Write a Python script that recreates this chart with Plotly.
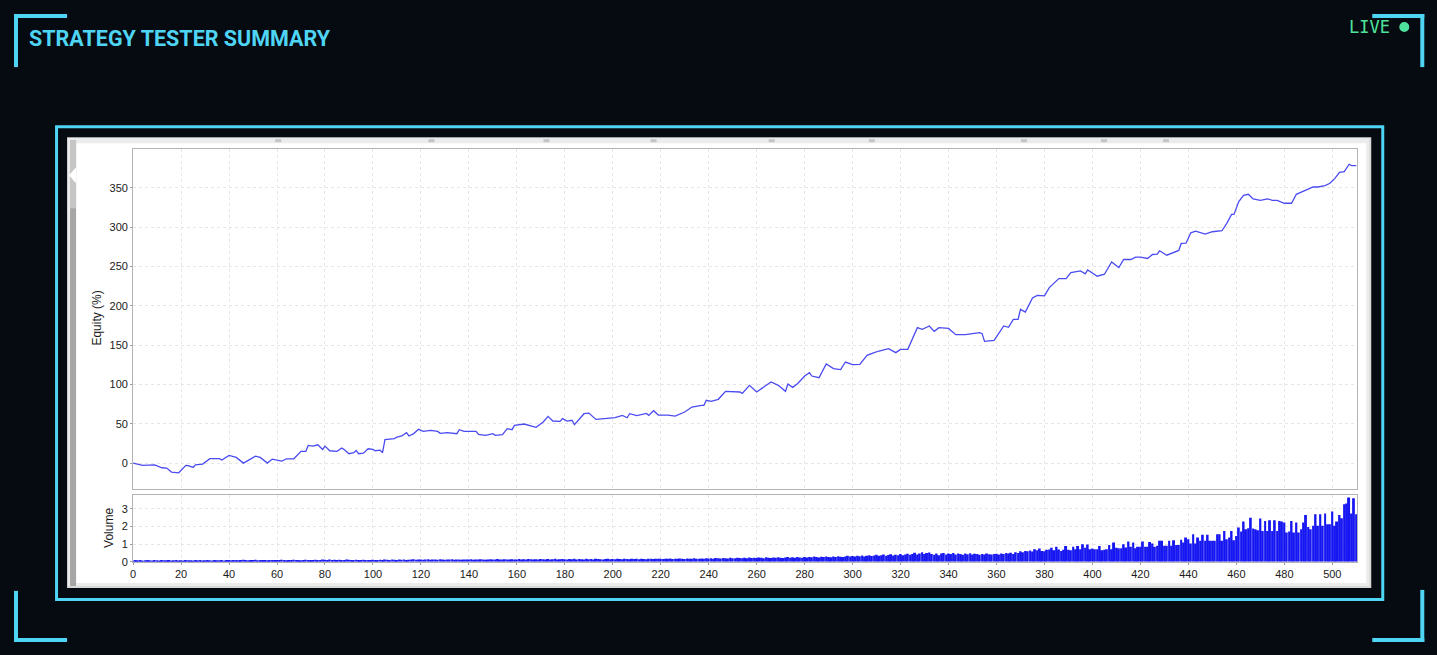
import plotly.graph_objects as go

W, H = 1437, 655
# the photographed page comes out slightly squeezed, so pre-stretch positions a bit
SY = 655 / 648
SX, OX = 0.997, 3.0

# equity curve: trade number -> equity (%)
trade_no = [0, 4, 9, 12, 14, 16, 19, 22, 23, 25, 26, 29, 32, 36, 37, 40, 43, 46, 48, 51,
            53, 56, 58, 60, 62, 64, 67, 70, 72, 73, 75, 77, 79, 80, 82, 85, 87, 88, 90, 92,
            93, 94, 96, 98, 100, 101, 103, 104, 105, 109, 110, 112, 114, 115, 117, 119, 121, 124, 127, 128,
            131, 135, 136, 138, 143, 144, 147, 150, 151, 154, 156, 158, 159, 163, 166, 168, 171, 173, 175, 178,
            179, 181, 183, 184, 188, 190, 193, 198, 201, 204, 206, 207, 210, 214, 215, 217, 219, 223, 226, 230,
            233, 237, 238, 239, 241, 244, 247, 253, 254, 257, 260, 264, 266, 269, 272, 273, 275, 277, 280, 282,
            283, 286, 289, 292, 295, 297, 300, 303, 306, 309, 311, 315, 318, 320, 323, 327, 329, 332, 334, 336,
            340, 343, 347, 353, 354, 355, 359, 363, 365, 367, 369, 370, 372, 375, 377, 380, 382, 386, 389, 391,
            395, 397, 398, 402, 405, 408, 411, 413, 416, 418, 420, 423, 425, 427, 428, 431, 436, 437, 439, 441,
            443, 447, 450, 454, 456, 458, 459, 461, 463, 465, 467, 470, 473, 475, 477, 480, 483, 485, 489, 491,
            492, 494, 497, 499, 501, 503, 505, 507, 508, 510]
equity = [0, -2.9, -2.3, -5.9, -6.3, -11.4, -12.3, -2.9, -3.2, -5.5, -2.1, -1.3, 5.6, 5.6, 3.9, 9.8, 7.3, 0, 3.4, 8.9,
          7.2, 0, 5.1, 4.2, 2.5, 5.5, 5.5, 14.9, 14.9, 22.5, 21.6, 23.3, 17.4, 21.6, 15.7, 14.9, 19.1, 17.4, 11.9, 13.2,
          16.1, 11.9, 12.7, 18.2, 17.4, 15.7, 16.5, 13.2, 29.8, 31.1, 33.2, 34.5, 38.7, 34.5, 37.5, 42.9, 40.3, 41.6, 40.3, 37.8,
          38.7, 37.4, 42.5, 40.3, 40.3, 36.5, 35.3, 37.4, 35.3, 36.1, 43.8, 42.5, 48.0, 49.7, 47.0, 45.4, 52.2, 59.4, 53.5, 53.1,
          56.5, 53.5, 54.4, 48.8, 62.8, 63.6, 55.5, 56.4, 57.7, 60.7, 57.7, 62.8, 60.3, 63.2, 60.7, 66.6, 61.1, 61.1, 59.8, 64.9,
          71.3, 73.4, 73.4, 79.8, 78.5, 81.1, 91.2, 90.4, 88.7, 98.9, 90.4, 98.9, 103.1, 98.9, 91.2, 100.5, 96.3, 101.0, 110.7, 115.0,
          110.7, 108.6, 126.0, 120.1, 118.8, 128.5, 125.1, 125.6, 137.0, 140.4, 142.5, 145.5, 140.4, 144.6, 144.6, 172.2, 170.1, 174.3, 167.5, 172.2,
          171.2, 163.3, 163.3, 165.9, 164.6, 154.8, 156.1, 174.3, 172.6, 182.8, 182.8, 195.5, 192.1, 209.9, 213.3, 212.5, 223.1, 234.6, 234.6, 242.2,
          244.4, 240.5, 245.6, 237.6, 240.1, 255.8, 248.6, 258.8, 258.8, 261.8, 261.8, 260.1, 265.2, 265.6, 269.9, 264.3, 270.3, 279.2, 279.6, 292.8,
          294.9, 291.1, 294.1, 295.4, 304.8, 316.2, 316.2, 332.4, 340.4, 341.7, 335.8, 334.1, 335.8, 334.1, 334.1, 330.3, 330.3, 341.7, 347.3, 349.4,
          351.0, 351.0, 352.7, 355.7, 361.6, 369.7, 370.5, 379.9, 378.2, 378.2]

# volume per trade, in blocks of 20 trades
vol_000 = [0.08, 0.10, 0.09, 0.10, 0.08, 0.09, 0.10, 0.09, 0.08, 0.10, 0.09, 0.08, 0.10, 0.09, 0.09, 0.10, 0.08, 0.09, 0.10, 0.08]
vol_020 = [0.09, 0.08, 0.10, 0.09, 0.09, 0.08, 0.10, 0.09, 0.10, 0.08, 0.09, 0.10, 0.09, 0.08, 0.10, 0.09, 0.09, 0.10, 0.08, 0.10]
vol_040 = [0.11, 0.09, 0.10, 0.11, 0.09, 0.10, 0.12, 0.10, 0.09, 0.11, 0.10, 0.12, 0.09, 0.10, 0.11, 0.10, 0.09, 0.11, 0.10, 0.10]
vol_060 = [0.11, 0.10, 0.12, 0.10, 0.09, 0.11, 0.10, 0.12, 0.11, 0.10, 0.09, 0.11, 0.12, 0.10, 0.11, 0.10, 0.12, 0.11, 0.10, 0.13]
vol_080 = [0.12, 0.11, 0.13, 0.10, 0.12, 0.11, 0.12, 0.10, 0.11, 0.13, 0.12, 0.11, 0.10, 0.12, 0.11, 0.10, 0.12, 0.11, 0.10, 0.11]
vol_100 = [0.12, 0.11, 0.10, 0.12, 0.11, 0.13, 0.12, 0.11, 0.14, 0.12, 0.11, 0.13, 0.12, 0.14, 0.11, 0.12, 0.13, 0.15, 0.12, 0.13]
vol_120 = [0.14, 0.12, 0.13, 0.15, 0.12, 0.13, 0.14, 0.12, 0.15, 0.13, 0.12, 0.14, 0.13, 0.15, 0.12, 0.14, 0.13, 0.12, 0.14, 0.13]
vol_140 = [0.13, 0.15, 0.12, 0.14, 0.13, 0.15, 0.14, 0.12, 0.13, 0.15, 0.14, 0.13, 0.16, 0.14, 0.13, 0.15, 0.14, 0.13, 0.15, 0.14]
vol_160 = [0.14, 0.16, 0.13, 0.15, 0.14, 0.16, 0.15, 0.13, 0.15, 0.14, 0.16, 0.15, 0.13, 0.16, 0.14, 0.15, 0.17, 0.14, 0.15, 0.16]
vol_180 = [0.15, 0.14, 0.16, 0.15, 0.17, 0.14, 0.16, 0.15, 0.14, 0.17, 0.15, 0.16, 0.14, 0.17, 0.16, 0.15, 0.14, 0.16, 0.17, 0.15]
vol_200 = [0.16, 0.15, 0.17, 0.16, 0.15, 0.18, 0.16, 0.15, 0.17, 0.16, 0.18, 0.15, 0.17, 0.16, 0.15, 0.18, 0.17, 0.16, 0.18, 0.17]
vol_220 = [0.17, 0.16, 0.18, 0.17, 0.19, 0.16, 0.18, 0.17, 0.19, 0.18, 0.16, 0.19, 0.18, 0.17, 0.20, 0.18, 0.17, 0.19, 0.18, 0.20]
vol_240 = [0.19, 0.21, 0.18, 0.22, 0.20, 0.19, 0.22, 0.21, 0.19, 0.23, 0.21, 0.20, 0.24, 0.22, 0.20, 0.23, 0.21, 0.25, 0.22, 0.24]
vol_260 = [0.22, 0.25, 0.23, 0.21, 0.26, 0.24, 0.22, 0.25, 0.23, 0.26, 0.24, 0.22, 0.25, 0.27, 0.23, 0.26, 0.24, 0.28, 0.25, 0.23]
vol_280 = [0.27, 0.25, 0.28, 0.26, 0.30, 0.27, 0.25, 0.29, 0.27, 0.31, 0.28, 0.26, 0.30, 0.28, 0.32, 0.29, 0.27, 0.31, 0.34, 0.30]
vol_300 = [0.33, 0.30, 0.35, 0.32, 0.36, 0.31, 0.34, 0.38, 0.33, 0.36, 0.40, 0.34, 0.37, 0.42, 0.35, 0.39, 0.43, 0.36, 0.40, 0.38]
vol_320 = [0.44, 0.38, 0.42, 0.46, 0.40, 0.45, 0.52, 0.42, 0.48, 0.55, 0.44, 0.50, 0.53, 0.45, 0.40, 0.48, 0.38, 0.47, 0.50, 0.42]
vol_340 = [0.47, 0.44, 0.50, 0.42, 0.48, 0.45, 0.40, 0.47, 0.43, 0.49, 0.41, 0.46, 0.44, 0.40, 0.45, 0.42, 0.47, 0.43, 0.41, 0.44]
vol_360 = [0.46, 0.42, 0.48, 0.44, 0.50, 0.47, 0.52, 0.45, 0.55, 0.50, 0.60, 0.55, 0.62, 0.60, 0.65, 0.58, 0.72, 0.66, 0.75, 0.62]
vol_380 = [0.60, 0.68, 0.70, 0.80, 0.66, 0.85, 0.70, 0.62, 0.68, 0.90, 0.68, 0.66, 0.85, 0.72, 0.90, 0.72, 1.00, 0.80, 0.98, 0.72]
vol_400 = [0.75, 0.72, 0.72, 0.90, 0.66, 0.68, 0.72, 0.95, 0.72, 1.09, 0.80, 0.77, 0.77, 1.00, 0.81, 1.15, 0.85, 1.09, 0.77, 0.85]
vol_420 = [0.85, 1.15, 0.85, 0.85, 1.13, 1.04, 0.85, 0.91, 1.19, 1.19, 0.91, 0.91, 1.19, 0.91, 1.23, 0.96, 0.96, 1.25, 1.09, 1.38]
vol_440 = [1.28, 1.04, 1.57, 1.04, 1.38, 1.19, 1.53, 1.19, 1.53, 1.19, 1.19, 1.19, 1.57, 1.57, 1.19, 1.75, 1.28, 1.38, 1.75, 1.23]
vol_460 = [1.47, 1.94, 1.72, 2.28, 1.85, 1.90, 2.50, 1.89, 1.85, 1.79, 2.45, 1.75, 2.32, 1.75, 2.36, 1.75, 2.36, 1.75, 2.32, 2.28]
vol_480 = [2.23, 1.66, 1.72, 2.32, 1.66, 2.23, 1.66, 1.85, 2.23, 2.66, 1.98, 1.85, 2.04, 2.70, 2.04, 2.70, 2.04, 2.74, 2.13, 2.13]
vol_500 = [2.85, 2.04, 2.28, 2.66, 2.47, 3.26, 3.30, 3.64, 2.74, 3.60, 2.70]

volume = (vol_000 + vol_020 + vol_040 + vol_060 + vol_080 + vol_100 + vol_120 + vol_140 + vol_160
          + vol_180 + vol_200 + vol_220 + vol_240 + vol_260 + vol_280 + vol_300 + vol_320 + vol_340
          + vol_360 + vol_380 + vol_400 + vol_420 + vol_440 + vol_460 + vol_480 + vol_500)
trades = list(range(len(volume)))

x_ticks = list(range(0, 501, 20))
equity_ticks = [0, 50, 100, 150, 200, 250, 300, 350]
volume_ticks = [0, 1, 2, 3]

BG = "#060a11"
CYAN = "#4fd5f4"
GREEN = "#4de39c"


def px(x):
    return (x - OX) / SX / W


def py(y):
    return 1 - y * SY / H


def rect(x0, y0, x1, y1, fill=None, line=None, lw=0):
    return dict(type="rect", xref="paper", yref="paper", layer="below",
                x0=px(x0), y0=py(y0), x1=px(x1), y1=py(y1),
                fillcolor=fill or "rgba(0,0,0,0)",
                line=dict(color=line or "rgba(0,0,0,0)", width=lw))


fig = go.Figure()
fig.add_trace(go.Scatter(x=trade_no, y=equity, mode="lines", xaxis="x", yaxis="y",
                         line=dict(color="#4b4bf2", width=1.3), hoverinfo="skip"))
fig.add_trace(go.Bar(x=trades, y=volume, xaxis="x2", yaxis="y2",
                     marker=dict(color="#1616f2", line=dict(width=0)), hoverinfo="skip"))

shapes = []
# corner brackets
for (hx0, hx1, vx0, vx1, hy0, hy1, vy0, vy1) in [
    (14, 67, 14, 18, 14, 18, 14, 67),
    (1371, 1423, 1419, 1423, 14, 18, 14, 67),
    (14, 67, 14, 18, 637, 641, 590, 641),
    (1371, 1423, 1419, 1423, 637, 641, 589, 641),
]:
    shapes.append(rect(hx0, hy0, hx1, hy1, fill=CYAN))
    shapes.append(rect(vx0, vy0, vx1, vy1, fill=CYAN))

# cyan frame around the screenshot
shapes.append(rect(56.5, 126.5, 1381.5, 598.5, line=CYAN, lw=3))
# light gray window, white content, left scroll bar
shapes.append(rect(67, 137, 1370, 587, fill="#d9d9d9"))
shapes.append(rect(68, 138, 1368, 585, fill="#ececec"))
shapes.append(rect(76, 143, 1365, 582, fill="#ffffff"))
shapes.append(rect(70, 140, 76, 585, fill="#a6a6a6"))
shapes.append(rect(70, 140, 76, 208, fill="#c6c6c6"))
shapes.append(dict(type="path", xref="paper", yref="paper", layer="below",
                   path=f"M {px(76)},{py(167)} L {px(69)},{py(175)} L {px(76)},{py(183)} Z",
                   fillcolor="#ffffff", line=dict(width=0)))
for tx in [275, 428, 543, 650, 768, 868, 1020, 1100, 1162]:
    shapes.append(rect(tx, 139, tx + 6, 142, fill="#c4c4c4"))

axis_font = dict(family="Liberation Sans, Arial", size=11, color="#1a1a1a")
grid = dict(showgrid=True, gridcolor="#e6e6e6", griddash="3px,3px", gridwidth=1,
            showline=True, mirror=True, linecolor="#b3b3b3", linewidth=1, zeroline=False)

x_dom = [px(133), px(1356)]
fig.update_layout(
    width=W, height=H, autosize=False,
    margin=dict(l=0, r=0, t=0, b=0),
    paper_bgcolor=BG, plot_bgcolor="#ffffff",
    showlegend=False, bargap=0.18,
    shapes=shapes,
    xaxis=dict(domain=x_dom, anchor="y", range=[0, 510.4], tickvals=x_ticks,
               showticklabels=False, **grid),
    xaxis2=dict(domain=x_dom, anchor="y2", matches="x", range=[0, 510.4], tickvals=x_ticks,
                ticks="outside", ticklen=2, tickcolor="#9a9a9a", tickfont=axis_font, **grid),
    yaxis=dict(domain=[py(488), py(149)], anchor="x", range=[-32.6, 399], tickvals=equity_ticks,
               ticks="outside", ticklen=2, tickcolor="#9a9a9a", tickfont=axis_font, **grid),
    yaxis2=dict(domain=[py(561), py(494)], anchor="x2", range=[0, 3.8], tickvals=volume_ticks,
                ticks="outside", ticklen=2, tickcolor="#9a9a9a", tickfont=axis_font, **grid),
    annotations=[
        dict(text="<b>STRATEGY TESTER SUMMARY</b>", xref="paper", yref="paper",
             x=px(27), y=py(38), xanchor="left", yanchor="middle", showarrow=False,
             font=dict(family="Roboto", size=21.5, color=CYAN)),
        dict(text="LIVE", xref="paper", yref="paper",
             x=px(1391), y=py(27), xanchor="right", yanchor="middle", showarrow=False,
             font=dict(family="DejaVu Sans Mono", size=17, color=GREEN)),
        dict(text="Equity (%)", xref="paper", yref="paper", textangle=-90,
             x=px(97), y=py(318), xanchor="center", yanchor="middle", showarrow=False,
             font=dict(family="Liberation Sans, Arial", size=12, color="#1a1a1a")),
        dict(text="Volume", xref="paper", yref="paper", textangle=-90,
             x=px(109), y=py(527), xanchor="center", yanchor="middle", showarrow=False,
             font=dict(family="Liberation Sans, Arial", size=12, color="#1a1a1a")),
    ],
)
fig.add_shape(type="circle", xref="paper", yref="paper",
              x0=px(1398), y0=py(22), x1=px(1408), y1=py(32),
              fillcolor=GREEN, line=dict(width=0))

# page body margin off so the figure sits flush with the window
fig.write_html("out.html",
               config={"displayModeBar": False, "responsive": False},
               post_script="document.body.style.margin='0';"
                           "document.body.style.overflow='hidden';"
                           "document.body.style.background='#060a11';")
